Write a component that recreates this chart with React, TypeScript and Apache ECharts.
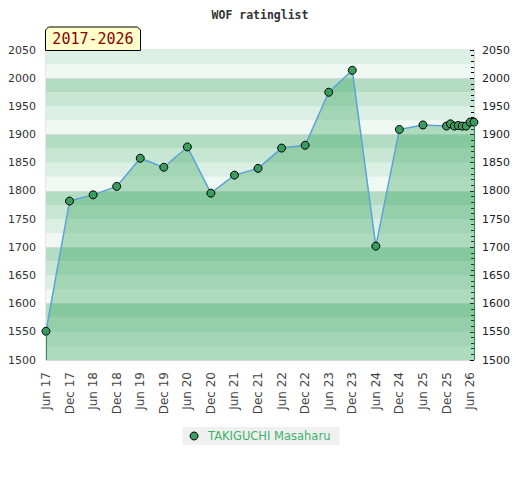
import React, { useEffect, useRef } from "react";
import * as echarts from "echarts";

const dates = [
  "2017-06", "2017-12", "2018-06", "2018-12", "2019-06", "2019-12",
  "2020-06", "2020-12", "2021-06", "2021-12", "2022-06", "2022-12",
  "2023-06", "2023-12", "2024-06", "2024-12", "2025-06", "2025-12",
  "2026-01", "2026-02", "2026-03", "2026-04", "2026-05", "2026-06", "2026-07",
];
const ratings = [
  1551, 1782, 1793, 1808, 1858, 1842,
  1878, 1796, 1828, 1840, 1876, 1881,
  1975, 2014, 1702, 1909, 1917, 1915,
  1919, 1915, 1916, 1915, 1915, 1922, 1922,
];
const playerName = "TAKIGUCHI Masaharu";
const chartTitle = "WOF ratinglist";
const periodLabel = "2017-2026";
const monthNames = ["Jan", "Feb", "Mar", "Apr", "May", "Jun", "Jul", "Aug", "Sep", "Oct", "Nov", "Dec"];
const yMin = 1500;
const yMax = 2050;

const toMonths = (d: string) => {
  const [y, m] = d.split("-").map(Number);
  return y * 12 + (m - 1);
};
const base = toMonths(dates[0]);
const points = dates.map((d, i) => [toMonths(d) - base, ratings[i]]);
const xMax = toMonths(dates[dates.length - 1]) - base;

export default function App() {
  const ref = useRef<HTMLDivElement>(null);
  useEffect(() => {
    if (!ref.current) return;
    const chart = echarts.init(ref.current, null, { renderer: "svg" });
    const first = points[0];
    const last = points[points.length - 1];
    const plain = (v: number) => String(v);
    chart.setOption({
      animation: false,
      backgroundColor: "#ffffff",
      title: {
        text: chartTitle,
        left: "center",
        top: 4,
        textStyle: { fontFamily: "DejaVu Sans Mono", fontSize: 11.5, fontWeight: "bold", color: "#333" },
      },
      grid: {
        left: 46, right: 46, top: 50, bottom: 120,
        show: true, borderColor: "#cccccc", borderWidth: 1, backgroundColor: "transparent",
      },
      legend: {
        top: 427,
        left: "center",
        backgroundColor: "#f0f0f0",
        padding: [3, 9, 3, 7],
        icon: "circle",
        itemWidth: 8,
        itemHeight: 8,
        itemGap: 6,
        itemStyle: { borderColor: "#000", borderWidth: 1 },
        textStyle: { color: "#3cb36a", fontSize: 11.5, fontFamily: "DejaVu Sans", padding: [0, 0, 0, 5] },
        data: [playerName],
      },
      xAxis: {
        type: "value",
        min: 0,
        max: xMax,
        interval: 6,
        axisLine: { show: false },
        axisTick: { show: false },
        splitLine: { show: false },
        axisLabel: {
          rotate: 90,
          margin: 12,
          fontSize: 12,
          fontFamily: "DejaVu Sans",
          color: "#444",
          formatter: (v: number) => {
            if (v % 6 !== 0) return "";
            const t = base + v;
            const yy = Math.floor(t / 12) % 100;
            return monthNames[t % 12] + " " + String(yy).padStart(2, "0");
          },
        },
      },
      yAxis: [
        {
          type: "value", position: "left", min: yMin, max: yMax, interval: 50,
          axisLine: { show: false }, axisTick: { show: false }, splitLine: { show: false },
          axisLabel: { fontSize: 11, fontFamily: "DejaVu Sans", color: "#333", margin: 10, formatter: plain },
        },
        {
          type: "value", position: "right", min: yMin, max: yMax, interval: 50,
          axisLine: { show: true, lineStyle: { color: "#c8d8cc" } },
          axisTick: { show: true, inside: true, length: 4, lineStyle: { color: "#000" } },
          minorTick: { show: true, splitNumber: 5, length: 3, lineStyle: { color: "#000" } },
          splitLine: { show: false },
          axisLabel: { fontSize: 11, fontFamily: "DejaVu Sans", color: "#222", margin: 8, formatter: plain },
        },
        {
          type: "value", position: "left", min: yMin, max: yMax, interval: 25,
          axisLine: { show: false }, axisTick: { show: false }, axisLabel: { show: false },
          splitArea: { show: true, areaStyle: { color: ["#f0f8f3", "#dcefe4", "#c7e6d3", "#b3dcc2"] } },
          splitLine: { show: true, lineStyle: { color: ["#d2dcd6", "transparent", "transparent", "transparent"], width: 1 } },
        },
      ],
      series: [
        {
          name: playerName,
          type: "line",
          yAxisIndex: 0,
          data: points,
          symbol: "circle",
          symbolSize: 8,
          itemStyle: { color: "#3a9d5d", borderColor: "#000", borderWidth: 1 },
          lineStyle: { color: "#5ba3d9", width: 1.5 },
          areaStyle: { color: "rgba(60,168,96,0.52)", origin: "start" },
          z: 3,
          markLine: {
            silent: true,
            symbol: "none",
            label: { show: false },
            lineStyle: { color: "#2e8b57", width: 1, type: "solid" },
            data: [
              [{ coord: [first[0], yMin] }, { coord: [first[0], first[1]] }],
              [{ coord: [last[0], yMin] }, { coord: [last[0], last[1]] }],
            ],
          },
        },
      ],
      graphic: [
        {
          type: "polygon",
          z: 100,
          shape: { points: [[45.5, 50.5], [45.5, 30], [48.5, 27], [137.5, 27], [140.5, 30], [140.5, 50.5]] },
          style: { fill: "#ffffcc", stroke: "#000", lineWidth: 1 },
        },
        {
          type: "text",
          z: 101,
          x: 93,
          y: 39,
          style: {
            text: periodLabel,
            fill: "#8b0000",
            font: "15px 'DejaVu Sans Mono'",
            align: "center",
            verticalAlign: "middle",
          },
        },
      ],
    });
    return () => chart.dispose();
  }, []);
  return <div ref={ref} style={{ position: "fixed", left: 0, top: 0, width: 520, height: 480 }} />;
}
